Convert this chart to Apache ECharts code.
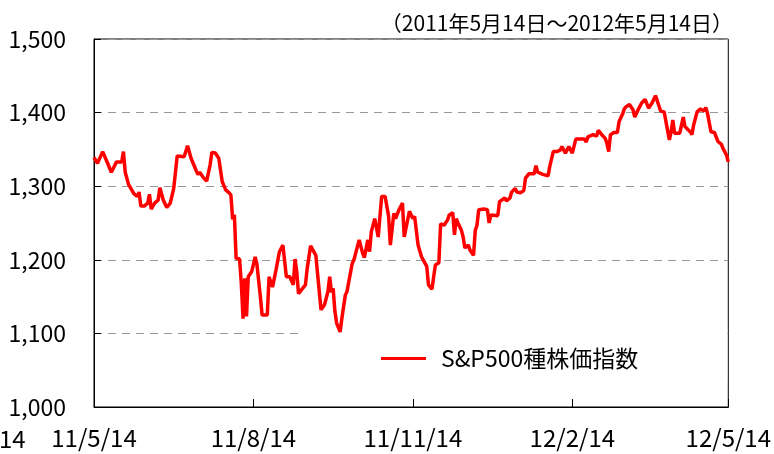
<!DOCTYPE html>
<html>
<head>
<meta charset="utf-8">
<script src="https://cdn.jsdelivr.net/npm/echarts@6/dist/echarts.min.js"></script>
<style>html,body{margin:0;padding:0;background:#fff;}#c{width:774px;height:454px;}</style>
</head>
<body>
<div id="c"></div>
<script>
// Days since 2011-05-14 and S&P500 closing level
const days = [0,2,5,7,10,13,16,17,18,20,23,25,26,27,29,31,32,33,35,37,38,40,42,44,46,48,52,54,56,59,60,61,63,65,67,68,70,72,74,75,76,78,79,80,81,82,84,85,86,87,88,89,91,93,94,95,96,97,100,101,102,103,105,107,109,111,113,115,116,117,118,119,122,123,125,126,128,129,131,133,135,136,137,138,139,140,142,143,145,146,147,149,150,151,153,155,156,158,159,160,162,164,165,166,168,170,171,173,174,176,178,179,182,184,185,187,189,192,193,195,196,197,199,200,202,204,205,207,208,209,210,212,213,214,216,217,219,220,221,222,225,227,228,229,230,233,234,235,237,238,240,241,243,244,246,248,249,251,254,255,256,259,262,263,265,267,269,270,272,274,275,276,278,281,283,284,285,288,289,290,291,292,293,295,296,297,298,300,302,303,305,306,307,309,311,312,314,316,318,320,322,324,326,327,329,330,332,333,334,335,338,340,341,342,344,345,346,348,350,352,353,354,356,358,360,362,363,365,366];
const values = [1339,1331,1347,1336,1319,1333,1333,1347,1319,1302,1290,1286,1292,1273,1273,1277,1289,1269,1277,1281,1298,1281,1271,1277,1297,1341,1340,1355,1338,1321,1316,1319,1312,1307,1329,1346,1345,1338,1306,1304,1295,1291,1288,1255,1261,1202,1201,1168,1120,1175,1123,1177,1184,1204,1194,1195,1150,1125,1125,1177,1179,1163,1186,1211,1220,1177,1177,1166,1201,1184,1154,1157,1166,1188,1219,1219,1206,1204,1132,1139,1157,1177,1156,1161,1130,1114,1102,1120,1152,1157,1170,1195,1200,1209,1227,1209,1203,1227,1211,1238,1256,1231,1259,1286,1286,1259,1220,1263,1256,1268,1277,1231,1266,1256,1259,1220,1204,1191,1166,1160,1177,1193,1196,1249,1247,1254,1261,1264,1234,1256,1250,1240,1231,1216,1220,1213,1206,1240,1247,1268,1269,1268,1250,1261,1259,1260,1279,1280,1284,1280,1284,1292,1297,1292,1291,1294,1311,1317,1317,1328,1319,1316,1314,1327,1347,1347,1349,1354,1345,1354,1355,1345,1364,1364,1364,1360,1367,1370,1372,1368,1376,1374,1370,1365,1358,1347,1370,1373,1373,1388,1398,1405,1408,1411,1404,1394,1404,1413,1418,1406,1413,1423,1409,1402,1401,1388,1363,1374,1390,1372,1372,1394,1381,1380,1374,1370,1383,1401,1405,1402,1407,1399,1374,1373,1361,1357,1351,1342,1333];
const totalDays = 366;
const tickDays = [0, 92, 184, 276, 366];
const tickLabels = ['11/5/14', '11/8/14', '11/11/14', '12/2/14', '12/5/14'];
const seriesName = 'S&P500種株価指数';
const subtitle = '（2011年5月14日～2012年5月14日）';

const categories = [];
for (let i = 0; i <= totalDays; i++) categories.push(String(i));
const lineData = categories.map(() => null);
days.forEach((d, i) => { lineData[d] = values[i]; });

const FONT = '"Noto Sans CJK JP", "Noto Sans", sans-serif';
const chart = echarts.init(document.getElementById('c'), null, {renderer: 'canvas'});
chart.setOption({
  animation: false,
  backgroundColor: '#fff',
  title: {
    text: subtitle, right: 36, top: 8,
    textStyle: {fontFamily: FONT, fontSize: 21, fontWeight: 'normal', color: '#000'}
  },
  graphic: [{
    type: 'text', left: -1, top: 427,
    style: {text: '14', font: '24px ' + FONT, fill: '#000'}
  }],
  grid: {left: 94, right: 44, top: 39, bottom: 47, show: true, borderColor: '#000', borderWidth: 1, containLabel: false},
  legend: {
    data: [seriesName], left: 301, top: 327,
    padding: [20, 89, 12, 80],
    backgroundColor: '#fff',
    icon: 'rect',
    itemWidth: 45, itemHeight: 3,
    textStyle: {fontFamily: FONT, fontSize: 23, color: '#000', padding: [0, 0, 0, 10]}
  },
  xAxis: {
    type: 'category', data: categories, boundaryGap: false,
    axisLine: {lineStyle: {color: '#000', width: 1}},
    axisTick: {inside: true, length: 8, lineStyle: {color: '#000'},
      interval: (idx) => tickDays.indexOf(idx) >= 0},
    axisLabel: {margin: 19, fontFamily: FONT, fontSize: 24, color: '#000',
      interval: (idx) => tickDays.indexOf(idx) >= 0,
      formatter: (v, idx) => { const k = tickDays.indexOf(Number(v)); return k >= 0 ? tickLabels[k] : ''; }},
    splitLine: {show: false}
  },
  yAxis: {
    type: 'value', min: 1000, max: 1500, interval: 100,
    axisLine: {show: true, lineStyle: {color: '#000', width: 1}},
    axisTick: {show: true, inside: true, length: 7, lineStyle: {color: '#000'}},
    axisLabel: {margin: 28, fontFamily: FONT, fontSize: 23, color: '#000',
      formatter: (v) => String(v).replace(/\B(?=(\d{3})+(?!\d))/g, ',')},
    splitLine: {show: true, lineStyle: {color: '#9a9a9a', type: [8, 6], width: 1}}
  },
  series: [{
    name: seriesName, type: 'line', data: lineData, connectNulls: true,
    showSymbol: false, symbol: 'none', z: 10,
    lineStyle: {color: '#ff0000', width: 3.5}, itemStyle: {color: '#ff0000'}
  }]
});
</script>
</body>
</html>
